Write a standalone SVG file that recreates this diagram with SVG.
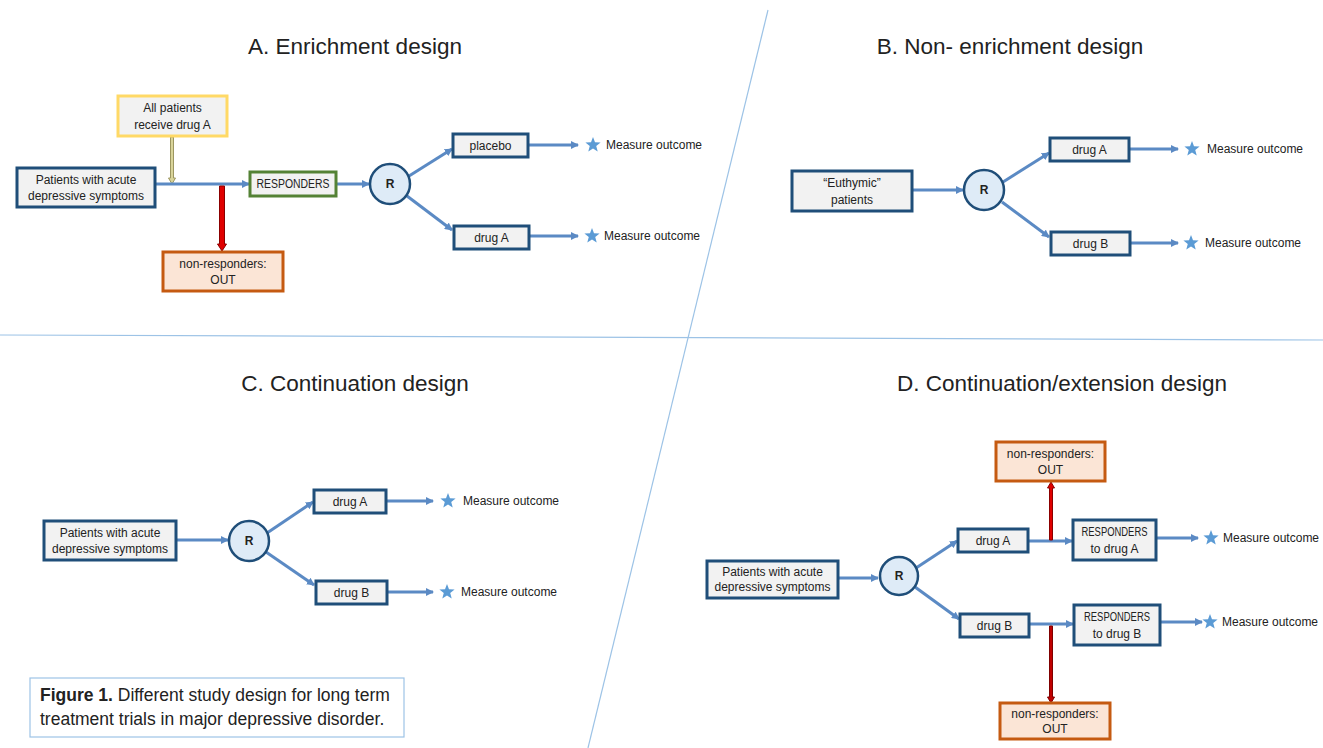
<svg xmlns="http://www.w3.org/2000/svg" xmlns:xlink="http://www.w3.org/1999/xlink" width="1323" height="748" viewBox="0 0 1323 748">
<style>
text{font-family:"Liberation Sans",Arial,sans-serif;fill:#222}
.title{font-size:22.5px;text-anchor:middle}
.t{font-size:12px;text-anchor:middle}
.m{font-size:12px}
.r{font-size:12px;font-weight:bold;text-anchor:middle}
.box{fill:#f2f2f2;stroke:#1f4e79;stroke-width:3}
.yel{fill:#f2f2f2;stroke:#ffd966;stroke-width:3}
.grn{fill:#f2f2f2;stroke:#548235;stroke-width:3}
.org{fill:#fbe5d6;stroke:#c55a11;stroke-width:3}
.circ{fill:#deebf7;stroke:#1f4e79;stroke-width:2.5}
.ar{stroke:#5b8ac4;stroke-width:3;fill:none;marker-end:url(#ah)}
.sep{stroke:#9dc3e6;stroke-width:1.2;fill:none}
.red{fill:#e00000;stroke:#8b0000;stroke-width:1}
.star{fill:#5b9bd5}
</style>
<defs>
<marker id="ah" viewBox="0 0 8 8" refX="7" refY="4" markerWidth="8" markerHeight="8" markerUnits="userSpaceOnUse" orient="auto">
<path d="M0,0 L8,4 L0,8 z" fill="#5b8ac4"/>
</marker>
<polygon id="star" points="0,-8 2,-2.75 7.61,-2.47 3.23,1.05 4.7,6.47 0,3.4 -4.7,6.47 -3.23,1.05 -7.61,-2.47 -2,-2.75"/>
</defs>
<rect width="1323" height="748" fill="#ffffff"/>
<g id="separators">
<line class="sep" x1="0" y1="335" x2="1323" y2="340"/>
<line class="sep" x1="768" y1="10" x2="588" y2="748"/>
</g>
<g id="titles">
<text class="title" x="355" y="54">A. Enrichment design</text>
<text class="title" x="1010" y="54">B. Non- enrichment design</text>
<text class="title" x="355" y="391">C. Continuation design</text>
<text class="title" x="1062" y="391">D. Continuation/extension design</text>
</g>
<g id="connectors">
<polygon points="170.5,137 173.5,137 173.5,178 175.5,178 172,184 168.5,178 170.5,178" fill="#d9d49a" stroke="#9c9660" stroke-width="1"/>
<line class="ar" x1="155" y1="184" x2="249" y2="184"/>
<polygon class="red" points="219.5,186 224.5,186 224.5,244 226.5,244 222,251 217.5,244 219.5,244"/>
<line class="ar" x1="336" y1="184" x2="369" y2="184"/>
<line class="ar" x1="409" y1="176" x2="452" y2="149"/>
<line class="ar" x1="407" y1="196" x2="452" y2="230"/>
<line class="ar" x1="529" y1="145" x2="578" y2="145"/>
<line class="ar" x1="530" y1="236" x2="578" y2="236"/>
<line class="ar" x1="912" y1="190" x2="963" y2="190"/>
<line class="ar" x1="1003" y1="182" x2="1049" y2="153"/>
<line class="ar" x1="1002" y1="202" x2="1049" y2="237"/>
<line class="ar" x1="1130" y1="149" x2="1178" y2="149"/>
<line class="ar" x1="1131" y1="243" x2="1178" y2="243"/>
<line class="ar" x1="176" y1="540" x2="228" y2="540"/>
<line class="ar" x1="267" y1="533" x2="313" y2="502"/>
<line class="ar" x1="266" y1="552" x2="314" y2="585"/>
<line class="ar" x1="387" y1="501" x2="433" y2="501"/>
<line class="ar" x1="388" y1="592" x2="433" y2="592"/>
<line class="ar" x1="838" y1="578" x2="878" y2="578"/>
<line class="ar" x1="916" y1="568" x2="957" y2="541"/>
<line class="ar" x1="915" y1="587" x2="959" y2="619"/>
<line class="ar" x1="1029" y1="541" x2="1072" y2="541"/>
<polygon class="red" points="1049.5,540 1052.5,540 1052.5,488 1054.5,488 1051,482 1047.5,488 1049.5,488"/>
<line class="ar" x1="1030" y1="624" x2="1073" y2="624"/>
<polygon class="red" points="1049.5,626 1052.5,626 1052.5,697 1054.5,697 1051,703 1047.5,697 1049.5,697" style="fill:#c00000;stroke:#7f0000"/>
<line class="ar" x1="1157" y1="538" x2="1198" y2="538"/>
<line class="ar" x1="1161" y1="622" x2="1202" y2="622"/>
</g>
<g id="A-allpatients"><rect class="yel" x="118" y="96" width="109" height="40"/><text class="t" x="172.5" y="112">All patients</text><text class="t" x="172.5" y="129">receive drug A</text></g>
<g id="A-patients"><rect class="box" x="17" y="168" width="138" height="39"/><text class="t" x="86" y="184">Patients with acute</text><text class="t" x="86" y="200">depressive symptoms</text></g>
<g id="A-responders"><rect class="grn" x="250" y="172" width="86" height="24"/><text class="t" x="293" y="188" textLength="73" lengthAdjust="spacingAndGlyphs">RESPONDERS</text></g>
<g id="A-nonresponders"><rect class="org" x="163" y="252" width="120" height="39"/><text class="t" x="223" y="268">non-responders:</text><text class="t" x="223" y="284">OUT</text></g>
<g id="A-R"><circle class="circ" cx="390" cy="184" r="20"/><text class="r" x="390" y="188">R</text></g>
<g id="A-placebo"><rect class="box" x="453" y="134" width="75" height="23"/><text class="t" x="490.5" y="150">placebo</text></g>
<g id="A-drugA"><rect class="box" x="454" y="226" width="75" height="23"/><text class="t" x="491.5" y="242">drug A</text></g>
<g id="A-out1"><use href="#star" class="star" x="593" y="145"/><text class="m" x="606" y="149">Measure outcome</text></g>
<g id="A-out2"><use href="#star" class="star" x="592" y="236"/><text class="m" x="604" y="240">Measure outcome</text></g>

<g id="B-euthymic"><rect class="box" x="792" y="171" width="120" height="40"/><text class="t" x="852" y="187">“Euthymic”</text><text class="t" x="852" y="204">patients</text></g>
<g id="B-R"><circle class="circ" cx="984" cy="190" r="20"/><text class="r" x="984" y="194">R</text></g>
<g id="B-drugA"><rect class="box" x="1050" y="138" width="79" height="23"/><text class="t" x="1089.5" y="154">drug A</text></g>
<g id="B-drugB"><rect class="box" x="1051" y="232" width="79" height="23"/><text class="t" x="1090.5" y="248">drug B</text></g>
<g id="B-out1"><use href="#star" class="star" x="1192" y="149"/><text class="m" x="1207" y="153">Measure outcome</text></g>
<g id="B-out2"><use href="#star" class="star" x="1191" y="243"/><text class="m" x="1205" y="247">Measure outcome</text></g>

<g id="C-patients"><rect class="box" x="44" y="521" width="132" height="39"/><text class="t" x="110" y="537">Patients with acute</text><text class="t" x="110" y="553">depressive symptoms</text></g>
<g id="C-R"><circle class="circ" cx="249" cy="541" r="20"/><text class="r" x="249" y="545">R</text></g>
<g id="C-drugA"><rect class="box" x="314" y="490" width="72" height="23"/><text class="t" x="350" y="506">drug A</text></g>
<g id="C-drugB"><rect class="box" x="316" y="581" width="71" height="23"/><text class="t" x="351.5" y="597">drug B</text></g>
<g id="C-out1"><use href="#star" class="star" x="448" y="501"/><text class="m" x="463" y="505">Measure outcome</text></g>
<g id="C-out2"><use href="#star" class="star" x="447" y="592"/><text class="m" x="461" y="596">Measure outcome</text></g>

<g id="D-patients"><rect class="box" x="707" y="561" width="131" height="37"/><text class="t" x="772.5" y="576">Patients with acute</text><text class="t" x="772.5" y="591">depressive symptoms</text></g>
<g id="D-R"><circle class="circ" cx="899" cy="576" r="19"/><text class="r" x="899" y="580">R</text></g>
<g id="D-drugA"><rect class="box" x="958" y="529" width="70" height="23"/><text class="t" x="993" y="545">drug A</text></g>
<g id="D-drugB"><rect class="box" x="960" y="614" width="69" height="23"/><text class="t" x="994.5" y="630">drug B</text></g>
<g id="D-respA"><rect class="box" x="1073" y="520" width="83" height="40"/><text class="t" x="1114.5" y="536" textLength="66" lengthAdjust="spacingAndGlyphs">RESPONDERS</text><text class="t" x="1114.5" y="553">to drug A</text></g>
<g id="D-respB"><rect class="box" x="1074" y="605" width="86" height="40"/><text class="t" x="1117" y="621" textLength="66" lengthAdjust="spacingAndGlyphs">RESPONDERS</text><text class="t" x="1117" y="638">to drug B</text></g>
<g id="D-non1"><rect class="org" x="996" y="442" width="109" height="39"/><text class="t" x="1050.5" y="458">non-responders:</text><text class="t" x="1050.5" y="474">OUT</text></g>
<g id="D-non2"><rect class="org" x="1000" y="703" width="110" height="36"/><text class="t" x="1055" y="718">non-responders:</text><text class="t" x="1055" y="733">OUT</text></g>
<g id="D-out1"><use href="#star" class="star" x="1211" y="538"/><text class="m" x="1223" y="542">Measure outcome</text></g>
<g id="D-out2"><use href="#star" class="star" x="1210" y="622"/><text class="m" x="1222" y="626">Measure outcome</text></g>

<g id="caption">
<rect x="30" y="678" width="374" height="59" fill="#ffffff" stroke="#9dc3e6" stroke-width="1.2"/>
<text x="40" y="701" style="font-size:17.5px"><tspan font-weight="bold">Figure 1.</tspan> Different study design for long term</text>
<text x="40" y="725" style="font-size:17.5px">treatment trials in major depressive disorder.</text>
</g>
</svg>
